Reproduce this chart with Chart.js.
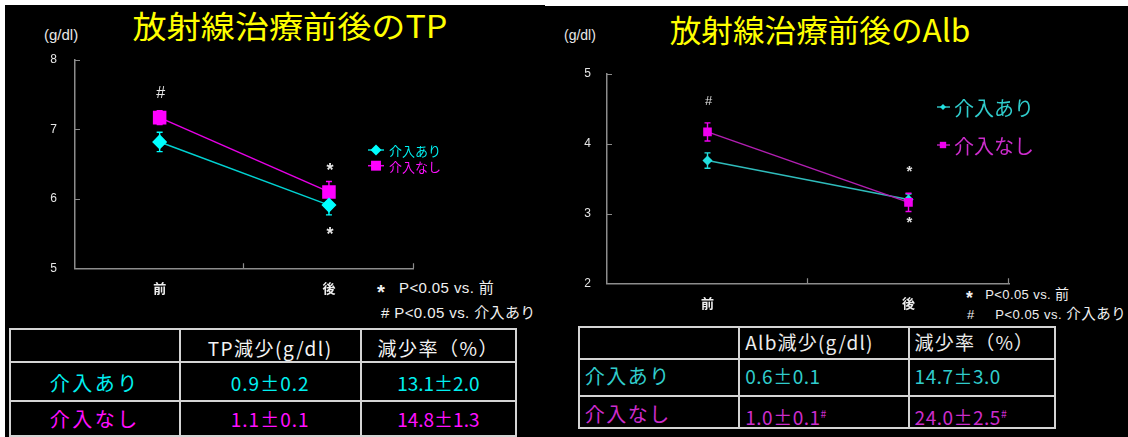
<!DOCTYPE html>
<html lang="ja">
<head>
<meta charset="utf-8">
<script src="https://cdn.jsdelivr.net/npm/chart.js@4.4.1/dist/chart.umd.min.js"></script>
<style>
  html, body { margin: 0; padding: 0; width: 1128px; height: 437px; overflow: hidden; background: #fff; }
  body { position: relative; font-family: "Noto Sans CJK JP", "Liberation Sans", sans-serif; }
  .abs { position: absolute; white-space: pre; }
  #stage { position: absolute; left: 5px; top: 5px; width: 1123px; height: 432px; background: #000; }
  #topR { position: absolute; left: 545px; top: 5px; width: 583px; height: 1px; background: #fff; }
  canvas { position: absolute; }
  .title { color: #ffff00; font-size: 31px; text-align: center; line-height: 40px; height: 40px; transform-origin: 50% 50%; }
  .unit { color: #e8e8e8; font-family: "Liberation Sans", "Noto Sans CJK JP", sans-serif; line-height: 20px; height: 20px; }
  .note { color: #f0f0f0; font-family: "Liberation Sans", "Noto Sans CJK JP", sans-serif; line-height: 20px; height: 20px; }
  .note .ja { font-family: "Noto Sans CJK JP", sans-serif; }
  .note .star { font-weight: bold; font-size: 1.35em; position: relative; top: 0.3em; line-height: 0; }
  .cell { line-height: 30px; height: 30px; overflow: visible; }
  .hl { position: absolute; background: #d4d4d4; }
  sup { font-size: 55%; vertical-align: 0.7em; }
</style>
</head>
<body>
<div id="stage"></div>
<div id="topR"></div>

<div class="abs title" style="left:90px; top:5px; width:400px; transform:scaleX(1.1);">放射線治療前後のTP</div>
<div class="abs title" style="left:620px; top:9px; width:400px; transform:scaleX(1.02);">放射線治療前後のAlb</div>
<div class="abs unit" style="left:44px; top:25px; font-size:15px;">(g/dl)</div>
<div class="abs unit" style="left:564px; top:25px; font-size:14px;">(g/dl)</div>

<div class="abs note" style="left:377px; top:277px; font-size:15px; letter-spacing:0.4px;"><span class="star">*</span>   P&lt;0.05 vs. <span class="ja">前</span></div>
<div class="abs note" style="left:381px; top:302px; font-size:15px; letter-spacing:0.4px;"># P&lt;0.05 vs. <span class="ja">介入あり</span></div>
<div class="abs note" style="left:966px; top:283px; font-size:13px; letter-spacing:0.4px;"><span class="star">*</span>   P&lt;0.05 vs. <span class="ja" style="font-size:14px;">前</span></div>
<div class="abs note" style="left:967px; top:303px; font-size:13px; letter-spacing:0.5px;">#     P&lt;0.05 vs. <span class="ja" style="font-size:14.5px;">介入あり</span></div>

<canvas id="tpChart" width="545" height="325" style="left:0; top:0; width:545px; height:325px;"></canvas>
<canvas id="albChart" width="583" height="325" style="left:545px; top:0; width:583px; height:325px;"></canvas>

<div id="tables"></div>

<script>
// ---- values ----
const phases = ['前', '後'];
const groupNames = ['介入あり', '介入なし'];

const tpTicks = [5, 6, 7, 8];
const tpWith = [6.82, 5.91];
const tpWithSE = [0.14, 0.14];
const tpWithout = [7.17, 6.10];
const tpWithoutSE = [0.10, 0.15];

const albTicks = [2, 3, 4, 5];
const albWith = [3.76, 3.20];
const albWithSE = [0.11, 0.08];
const albWithout = [4.17, 3.16];
const albWithoutSE = [0.13, 0.13];

// significance marks: [category index, value, symbol]
const tpMarks = [[0, 7.52, '#'], [1, 6.47, '*'], [1, 5.55, '*']];
const albMarks = [[0, 4.60, '#'], [1, 3.65, '*'], [1, 2.93, '*']];

// summary tables
const tpHeader = ['', 'TP減少(g/dl)', '減少率（%）'];
const tpLoss = ['0.9±0.2', '1.1±0.1'];
const tpRate = ['13.1±2.0', '14.8±1.3'];
const albHeader = ['', 'Alb減少(g/dl)', '減少率（%）'];
const albLoss = ['0.6±0.1', '1.0±0.1'];
const albRate = ['14.7±3.0', '24.0±2.5'];
const albLossSup = ['', '#'];
const albRateSup = ['', '#'];

// ---- plugins ----
function markerPath(ctx, style, r, cx, cy) {
  ctx.beginPath();
  if (style === 'rect') {
    const h = r * Math.SQRT1_2;
    ctx.rect(cx - h, cy - h, 2 * h, 2 * h);
  } else if (style === 'rectRot') {
    ctx.moveTo(cx, cy - r); ctx.lineTo(cx + r, cy); ctx.lineTo(cx, cy + r); ctx.lineTo(cx - r, cy); ctx.closePath();
  } else {
    ctx.arc(cx, cy, r, 0, Math.PI * 2);
  }
}

const errorBars = {
  id: 'errorBars',
  beforeDatasetsDraw(chart, args, opts) {
    const { ctx, scales: { x, y } } = chart;
    chart.data.datasets.forEach((ds) => {
      if (!ds.errors) return;
      ctx.save();
      ctx.strokeStyle = ds.pointBackgroundColor;
      ctx.lineWidth = opts.width;
      ds.data.forEach((v, i) => {
        const px = x.getPixelForValue(i);
        const t = y.getPixelForValue(v + ds.errors[i]);
        const b = y.getPixelForValue(v - ds.errors[i]);
        ctx.beginPath();
        ctx.moveTo(px, t); ctx.lineTo(px, b);
        ctx.moveTo(px - opts.cap, t); ctx.lineTo(px + opts.cap, t);
        ctx.moveTo(px - opts.cap, b); ctx.lineTo(px + opts.cap, b);
        ctx.stroke();
      });
      ctx.restore();
    });
  }
};

const innerTicks = {
  id: 'innerTicks',
  afterDraw(chart, args, opts) {
    const { ctx, chartArea: { left, right, bottom }, scales: { x, y } } = chart;
    ctx.save();
    ctx.strokeStyle = opts.color;
    ctx.lineWidth = opts.width;
    ctx.beginPath();
    y.ticks.forEach(t => {
      const py = Math.round(y.getPixelForValue(t.value)) + 0.5;
      ctx.moveTo(left, py); ctx.lineTo(left + opts.len, py);
    });
    const n = x.ticks.length;
    for (let i = 1; i <= n; i++) {
      const px = Math.round(left + (right - left) * i / n) - 0.5;
      ctx.moveTo(px, bottom); ctx.lineTo(px, bottom - opts.len);
    }
    ctx.stroke();
    ctx.restore();
  }
};

const sigMarks = {
  id: 'sigMarks',
  afterDatasetsDraw(chart, args, opts) {
    const { ctx, scales: { x, y } } = chart;
    ctx.save();
    ctx.fillStyle = opts.color;
    ctx.textAlign = 'center';
    ctx.textBaseline = 'middle';
    opts.items.forEach(([i, v, s]) => {
      const star = s === '*';
      ctx.font = star ? opts.starFont : opts.font;
      ctx.fillText(s, x.getPixelForValue(i) + 1, y.getPixelForValue(v) + (star ? opts.starDrop : 0));
    });
    ctx.restore();
  }
};

const sideLegend = {
  id: 'sideLegend',
  afterDraw(chart, args, opts) {
    const { ctx } = chart;
    ctx.save();
    ctx.font = opts.font;
    ctx.textBaseline = 'middle';
    chart.data.datasets.forEach((ds, k) => {
      const yy = opts.y + k * opts.gap;
      ctx.strokeStyle = ds.borderColor;
      ctx.lineWidth = ds.borderWidth;
      ctx.beginPath(); ctx.moveTo(opts.x, yy); ctx.lineTo(opts.x + opts.lineLen, yy); ctx.stroke();
      ctx.fillStyle = ds.pointBackgroundColor;
      markerPath(ctx, ds.pointStyle, ds.legendRadius, opts.x + opts.markAt, yy);
      ctx.fill();
      ctx.fillStyle = ds.textColor;
      ctx.fillText(ds.label, opts.x + opts.lineLen + opts.textGap, yy + 1);
    });
    ctx.restore();
  }
};

// ---- chart builder ----
function lineChart(id, cfg) {
  const axisColor = '#8c8c8c';
  return new Chart(document.getElementById(id), {
    type: 'line',
    data: { labels: phases, datasets: cfg.datasets },
    plugins: [errorBars, innerTicks, sigMarks, sideLegend],
    options: {
      responsive: false,
      animation: false,
      devicePixelRatio: 1,
      layout: { padding: cfg.padding },
      plugins: {
        legend: { display: false },
        tooltip: { enabled: false },
        errorBars: { width: 1.4, cap: 3 },
        innerTicks: { color: axisColor, width: 1.2, len: 5 },
        sigMarks: cfg.marks,
        sideLegend: cfg.legend
      },
      scales: {
        x: {
          type: 'category',
          offset: true,
          grid: { display: false, drawTicks: false },
          border: { display: true, color: axisColor, width: 1.5 },
          ticks: { color: '#eeeeee', padding: cfg.xPad, font: { family: '"Noto Sans CJK JP", sans-serif', size: 13, weight: 'bold' } },
          afterFit(s) { s.height = cfg.xHeight; }
        },
        y: {
          min: cfg.ticks[0],
          max: cfg.ticks[cfg.ticks.length - 1],
          grid: { display: false, drawTicks: false },
          border: { display: true, color: axisColor, width: 1.5 },
          ticks: { color: '#e6e6e6', padding: cfg.yPad, font: { family: '"Liberation Sans", sans-serif', size: 12 } },
          afterBuildTicks(s) { s.ticks = cfg.ticks.map(v => ({ value: v })); },
          afterFit(s) { s.width = cfg.yWidth; }
        }
      }
    }
  });
}

lineChart('tpChart', {
  ticks: tpTicks,
  padding: { left: 0, top: 60, right: 131.4, bottom: 11.7 },
  xHeight: 45, yWidth: 75, yPad: 18, xPad: 12,
  marks: { items: tpMarks, color: '#e6e6e6', font: '16px "Liberation Sans", sans-serif',
           starFont: 'bold 18px "Liberation Sans", sans-serif', starDrop: 4.5 },
  legend: { x: 368, y: 150, gap: 15.7, lineLen: 16, markAt: 8, textGap: 5, font: '13px "Noto Sans CJK JP", sans-serif' },
  datasets: [
    { label: groupNames[0], data: tpWith, errors: tpWithSE, borderColor: '#00d2d2', borderWidth: 1.5,
      pointBackgroundColor: '#00ffff', pointBorderColor: '#00ffff', pointStyle: 'rectRot', pointRadius: 6.5,
      legendRadius: 5.5, textColor: '#00f0f0' },
    { label: groupNames[1], data: tpWithout, errors: tpWithoutSE, borderColor: '#e600e6', borderWidth: 1.5,
      pointBackgroundColor: '#ff00ff', pointBorderColor: '#ff00ff', pointStyle: 'rect', pointRadius: 8.5,
      legendRadius: 7, textColor: '#ff10ff' }
  ]
});

lineChart('albChart', {
  ticks: albTicks,
  padding: { left: 0, top: 74, right: 119, bottom: 6.7 },
  xHeight: 35, yWidth: 62, yPad: 16, xPad: 12,
  marks: { items: albMarks, color: '#e0e0e0', font: '13px "Liberation Sans", sans-serif',
           starFont: 'bold 15px "Liberation Sans", sans-serif', starDrop: 4 },
  legend: { x: 392, y: 107, gap: 38, lineLen: 13, markAt: 6, textGap: 4, font: '20px "Noto Sans CJK JP", sans-serif' },
  datasets: [
    { label: groupNames[0], data: albWith, errors: albWithSE, borderColor: '#2fbcbc', borderWidth: 1.5, order: 1,
      pointBackgroundColor: '#22e0e0', pointBorderColor: '#22e0e0', pointStyle: 'rectRot', pointRadius: 4,
      legendRadius: 3, textColor: '#30cccc' },
    { label: groupNames[1], data: albWithout, errors: albWithoutSE, borderColor: '#b21fb2', borderWidth: 1.5, order: 0,
      pointBackgroundColor: '#f000f0', pointBorderColor: '#f000f0', pointStyle: 'rect', pointRadius: 5,
      legendRadius: 4.5, textColor: '#cc2ccc' }
  ]
});

// ---- summary tables ----
function buildTable(spec) {
  const root = document.getElementById('tables');
  const [x0, , , x3] = spec.cols;
  const [y0, , , y3] = spec.rows;
  spec.rows.forEach(ry => {
    const d = document.createElement('div');
    d.className = 'hl';
    Object.assign(d.style, { left: (x0 - 1) + 'px', top: (ry - 1) + 'px', width: (x3 - x0 + 2) + 'px', height: '2px' });
    root.appendChild(d);
  });
  spec.cols.forEach(cx => {
    const d = document.createElement('div');
    d.className = 'hl';
    Object.assign(d.style, { left: (cx - 1) + 'px', top: (y0 - 1) + 'px', width: '2px', height: (y3 - y0 + 2) + 'px' });
    root.appendChild(d);
  });
  spec.cells.forEach((row, r) => {
    row.forEach((cell, c) => {
      if (!cell.text) return;
      const d = document.createElement('div');
      d.className = 'abs cell';
      const left = spec.cols[c];
      const w = spec.cols[c + 1] - left;
      Object.assign(d.style, {
        left: (spec.align === 'left' ? left + spec.indent[c] : left) + 'px',
        width: (spec.align === 'left' ? w - spec.indent[c] : w) + 'px',
        top: (spec.textY[r] - 15) + 'px',
        textAlign: spec.align,
        color: cell.color,
        fontSize: cell.size + 'px',
        letterSpacing: (cell.ls || 0) + 'px'
      });
      d.textContent = cell.text;
      if (cell.sup) {
        const s = document.createElement('sup');
        s.textContent = cell.sup;
        d.appendChild(s);
      }
      root.appendChild(d);
    });
  });
}

const tpCyan = '#00f0f0', tpMag = '#ff10ff';
buildTable({
  cols: [10, 179.6, 360.7, 516],
  rows: [329.3, 362.3, 400.7, 436],
  textY: [348, 382.5, 419],
  align: 'center',
  cells: [
    tpHeader.map(t => ({ text: t, color: '#f4f4f4', size: 19, ls: 1.5 })),
    [{ text: groupNames[0], color: tpCyan, size: 20, ls: 2.5 }, { text: tpLoss[0], color: tpCyan, size: 19, ls: 1 }, { text: tpRate[0], color: tpCyan, size: 19 }],
    [{ text: groupNames[1], color: tpMag, size: 20, ls: 2.5 }, { text: tpLoss[1], color: tpMag, size: 19, ls: 1 }, { text: tpRate[1], color: tpMag, size: 19 }]
  ]
});

const albCyan = '#30cccc', albMag = '#cc2ccc';
buildTable({
  cols: [578.8, 739.3, 908.6, 1054.6],
  rows: [327.3, 359.3, 396, 428.3],
  textY: [342, 376, 413.5],
  align: 'left',
  indent: [6, 6, 6],
  cells: [
    albHeader.map(t => ({ text: t, color: '#ececec', size: 19, ls: 1.2 })),
    [{ text: groupNames[0], color: albCyan, size: 20, ls: 1.5 }, { text: albLoss[0], color: albCyan, size: 19, sup: albLossSup[0], ls: 0.5 }, { text: albRate[0], color: albCyan, size: 19, sup: albRateSup[0], ls: 0.5 }],
    [{ text: groupNames[1], color: albMag, size: 20, ls: 1.5 }, { text: albLoss[1], color: albMag, size: 19, sup: albLossSup[1], ls: 0.5 }, { text: albRate[1], color: albMag, size: 19, sup: albRateSup[1], ls: 0.5 }]
  ]
});
</script>
</body>
</html>
